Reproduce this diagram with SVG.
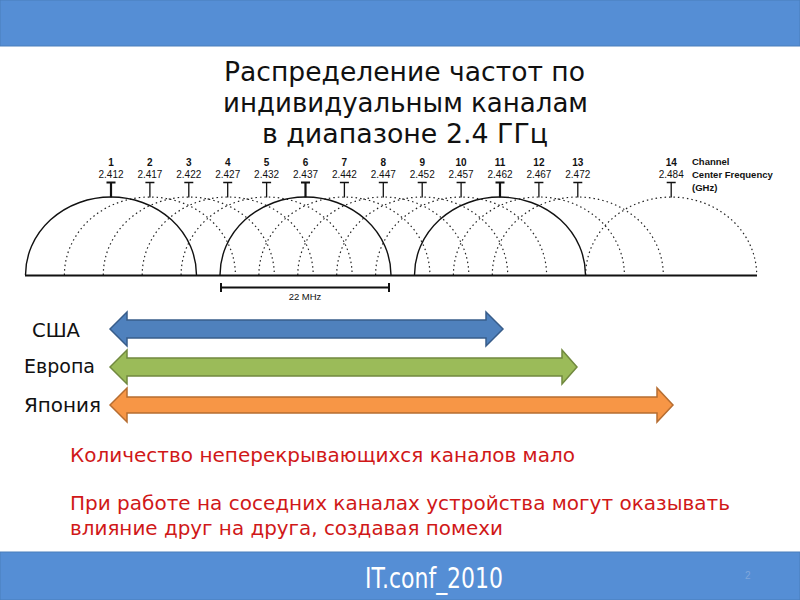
<svg xmlns="http://www.w3.org/2000/svg" width="800" height="600" viewBox="0 0 800 600">
<style>
.bar{fill:#558ED5;stroke:#4A7EBB;stroke-width:1}
.title{font-family:"DejaVu Sans",sans-serif;font-size:26px;fill:#111}
.num{font-family:"Liberation Sans",Arial,sans-serif;font-size:10px;font-weight:bold;fill:#111;text-anchor:middle}
.frq{font-family:"Liberation Sans",Arial,sans-serif;font-size:10px;fill:#111;text-anchor:middle}
.leg{font-family:"Liberation Sans",Arial,sans-serif;font-size:9.5px;font-weight:bold;fill:#111}
.solid{fill:none;stroke:#111;stroke-width:1.4}
.dot{fill:none;stroke:#222;stroke-width:1.2;stroke-dasharray:1.5 3}
.tick{stroke:#111;stroke-width:1.3;fill:none}
.tickb{stroke:#111;stroke-width:2.2;fill:none}
.lbl{font-family:"DejaVu Sans",sans-serif;font-size:19.5px;fill:#111}
.red{font-family:"DejaVu Sans",sans-serif;font-size:19.5px;fill:#D01818}
.foot{font-family:"DejaVu Sans Condensed","DejaVu Sans",sans-serif;font-size:29px;fill:#fff}
</style>
<rect width="800" height="600" fill="#fff"/>
<rect class="bar" x="0" y="0" width="800" height="46"/>
<rect class="bar" x="0" y="552" width="800" height="48"/>

<g id="title">
<text class="title" x="224" y="81" textLength="361" lengthAdjust="spacingAndGlyphs">Распределение частот по</text>
<text class="title" x="223" y="112" textLength="365" lengthAdjust="spacingAndGlyphs">индивидуальным каналам</text>
<text class="title" x="262" y="143" textLength="286" lengthAdjust="spacingAndGlyphs">в диапазоне 2.4 ГГц</text>
</g>

<g id="spectrum">
<g id="labels">
<text class="num" x="111" y="166">1</text><text class="frq" x="111" y="178">2.412</text>
<text class="num" x="149.9" y="166">2</text><text class="frq" x="149.9" y="178">2.417</text>
<text class="num" x="188.8" y="166">3</text><text class="frq" x="188.8" y="178">2.422</text>
<text class="num" x="227.7" y="166">4</text><text class="frq" x="227.7" y="178">2.427</text>
<text class="num" x="266.6" y="166">5</text><text class="frq" x="266.6" y="178">2.432</text>
<text class="num" x="305.5" y="166">6</text><text class="frq" x="305.5" y="178">2.437</text>
<text class="num" x="344.4" y="166">7</text><text class="frq" x="344.4" y="178">2.442</text>
<text class="num" x="383.3" y="166">8</text><text class="frq" x="383.3" y="178">2.447</text>
<text class="num" x="422.2" y="166">9</text><text class="frq" x="422.2" y="178">2.452</text>
<text class="num" x="461.1" y="166">10</text><text class="frq" x="461.1" y="178">2.457</text>
<text class="num" x="500" y="166">11</text><text class="frq" x="500" y="178">2.462</text>
<text class="num" x="538.9" y="166">12</text><text class="frq" x="538.9" y="178">2.467</text>
<text class="num" x="577.8" y="166">13</text><text class="frq" x="577.8" y="178">2.472</text>
<text class="num" x="671.2" y="166">14</text><text class="frq" x="671.2" y="178">2.484</text>
<text class="leg" x="692" y="165">Channel</text>
<text class="leg" x="692" y="178">Center Frequency</text>
<text class="leg" x="692" y="191">(GHz)</text>
</g>
<g id="ticks">
<path class="tickb" d="M106.5 182.5h9M111 182.5v15"/>
<path class="tick" d="M145.4 182.5h9M149.9 182.5v15"/>
<path class="tick" d="M184.3 182.5h9M188.8 182.5v15"/>
<path class="tick" d="M223.2 182.5h9M227.7 182.5v15"/>
<path class="tick" d="M262.1 182.5h9M266.6 182.5v15"/>
<path class="tickb" d="M301 182.5h9M305.5 182.5v15"/>
<path class="tick" d="M339.9 182.5h9M344.4 182.5v15"/>
<path class="tick" d="M378.8 182.5h9M383.3 182.5v15"/>
<path class="tick" d="M417.7 182.5h9M422.2 182.5v15"/>
<path class="tick" d="M456.6 182.5h9M461.1 182.5v15"/>
<path class="tickb" d="M495.5 182.5h9M500 182.5v15"/>
<path class="tick" d="M534.4 182.5h9M538.9 182.5v15"/>
<path class="tick" d="M573.3 182.5h9M577.8 182.5v15"/>
<path class="tick" d="M666.7 182.5h9M671.2 182.5v15"/>
</g>
<g id="arcs">
<path class="dot" d="M64.4 275A85.5 78 0 0 1 235.4 275"/>
<path class="dot" d="M103.3 275A85.5 78 0 0 1 274.3 275"/>
<path class="dot" d="M142.2 275A85.5 78 0 0 1 313.2 275"/>
<path class="dot" d="M181.1 275A85.5 78 0 0 1 352.1 275"/>
<path class="dot" d="M258.9 275A85.5 78 0 0 1 429.9 275"/>
<path class="dot" d="M297.8 275A85.5 78 0 0 1 468.8 275"/>
<path class="dot" d="M336.7 275A85.5 78 0 0 1 507.7 275"/>
<path class="dot" d="M375.6 275A85.5 78 0 0 1 546.6 275"/>
<path class="dot" d="M453.4 275A85.5 78 0 0 1 624.4 275"/>
<path class="dot" d="M492.3 275A85.5 78 0 0 1 663.3 275"/>
<path class="dot" d="M585.7 275A85.5 78 0 0 1 756.7 275"/>
<path class="solid" d="M25.5 275A85.5 78 0 0 1 196.5 275"/>
<path class="solid" d="M220 275A85.5 78 0 0 1 391 275"/>
<path class="solid" d="M414.5 275A85.5 78 0 0 1 585.5 275"/>
<path stroke="#111" stroke-width="2" d="M25 275.5H757"/>
</g>
<g id="width22">
<path stroke="#111" stroke-width="2" fill="none" d="M221 287.5H389M221 283v9M389 283v9"/>
<text class="frq" x="305" y="300" style="font-size:9.5px">22 MHz</text>
</g>
</g>

<g id="usa">
<text class="lbl" x="32" y="337" textLength="48" lengthAdjust="spacingAndGlyphs">США</text>
<path fill="#4F81BD" stroke="#385D8A" stroke-width="1.5" d="M110 329L127 312V320H486V312L503 329L486 346V338H127V346Z"/>
</g>
<g id="europe">
<text class="lbl" x="24" y="373" textLength="71" lengthAdjust="spacingAndGlyphs">Европа</text>
<path fill="#9BBB59" stroke="#71893F" stroke-width="1.5" d="M110 367L127 350V358H562V350L577 367L562 384V376H127V384Z"/>
</g>
<g id="japan">
<text class="lbl" x="24" y="412" textLength="77" lengthAdjust="spacingAndGlyphs">Япония</text>
<path fill="#F79646" stroke="#B66D31" stroke-width="1.5" d="M110 405L127 388V397H657V388L673 405L657 422V413H127V422Z"/>
</g>

<g id="notes">
<text class="red" x="70" y="462" textLength="505" lengthAdjust="spacingAndGlyphs">Количество неперекрывающихся каналов мало</text>
<text class="red" x="70" y="510" textLength="660" lengthAdjust="spacingAndGlyphs">При работе на соседних каналах устройства могут оказывать</text>
<text class="red" x="70" y="535" textLength="433" lengthAdjust="spacingAndGlyphs">влияние друг на друга, создавая помехи</text>
</g>

<g id="footer">
<text class="foot" x="365" y="588" textLength="138" lengthAdjust="spacingAndGlyphs">IT.conf_2010</text>
<text x="745" y="579" style="font-family:'Liberation Sans',sans-serif;font-size:10px;fill:#7FA6DC">2</text>
</g>
</svg>
